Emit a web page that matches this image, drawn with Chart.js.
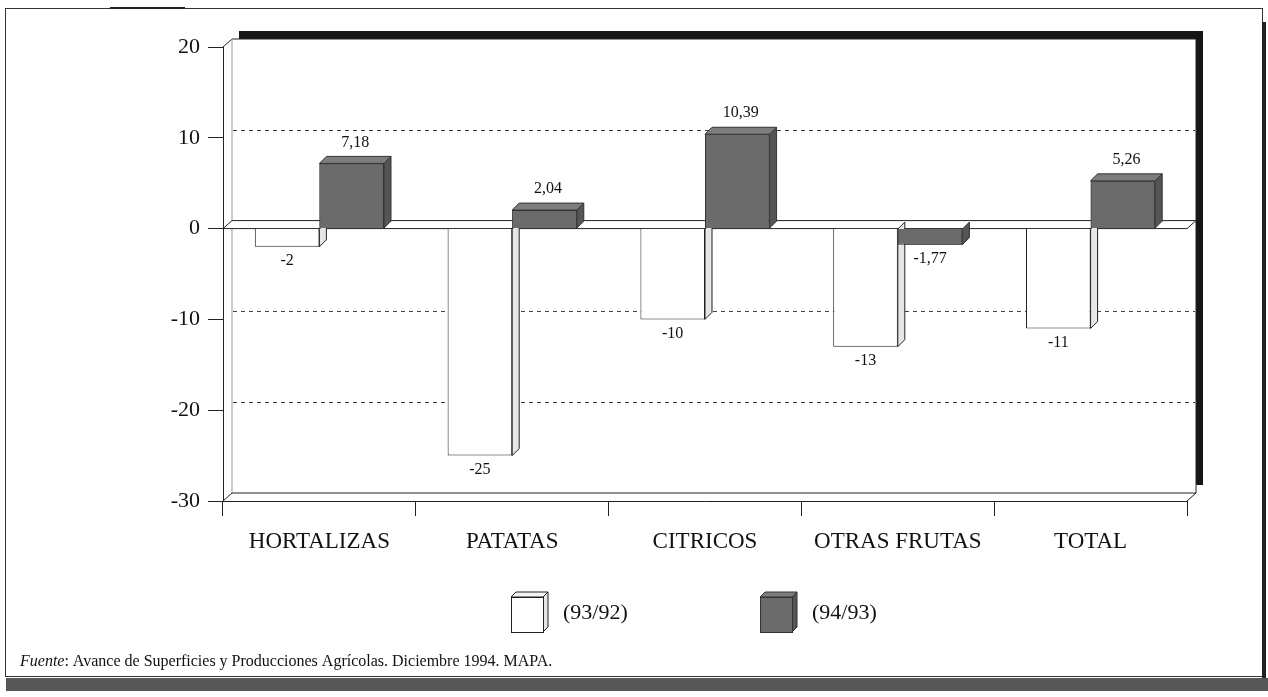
<!DOCTYPE html>
<html>
<head>
<meta charset="utf-8">
<script src="https://cdn.jsdelivr.net/npm/chart.js@4.4.1/dist/chart.umd.min.js"></script>
<style>
  html, body { margin: 0; padding: 0; background: #fff; }
  #wrap { width: 1268px; height: 697px; }
</style>
</head>
<body>
<div id="wrap"><canvas id="chart" width="1268" height="697"></canvas></div>
<script>
var categories = ['HORTALIZAS', 'PATATAS', 'CITRICOS', 'OTRAS FRUTAS', 'TOTAL']
var serie9392 = [-2, -25, -10, -13, -11]
var serie9493 = [7.18, 2.04, 10.39, -1.77, 5.26]
var seriesNames = ['(93/92)', '(94/93)']
var yTicks = [-30, -20, -10, 0, 10, 20]
var gridValues = [10, -10, -20]
var fuente = 'Fuente'
var fuenteText = ': Avance de Superficies y Producciones Agrícolas. Diciembre 1994. MAPA.'

var serif = "'Liberation Serif', 'Times New Roman', serif"
var wallDx = 9, wallDy = -8   // depth of the back wall
var barDx = 7, barDy = -7     // depth of each bar

function fmt(v) { return String(v).replace('.', ',') }

// side + top faces of a bar, looking from above-right
function barFaces(ctx, el, fillTop, fillSide, stroke) {
    var x1 = el.x - el.width / 2, x2 = el.x + el.width / 2
    var yv = el.y, y0 = el.base
    ctx.save()
    ctx.lineWidth = 1
    ctx.strokeStyle = stroke
    // side
    ctx.beginPath()
    if (yv < y0) {
        ctx.moveTo(x2, yv); ctx.lineTo(x2 + barDx, yv + barDy)
        ctx.lineTo(x2 + barDx, y0 + barDy); ctx.lineTo(x2, y0)
    } else {
        ctx.moveTo(x2, y0); ctx.lineTo(x2 + barDx, y0 + barDy)
        ctx.lineTo(x2 + barDx, yv + barDy); ctx.lineTo(x2, yv)
    }
    ctx.closePath()
    ctx.fillStyle = fillSide; ctx.fill(); ctx.stroke()
    // top (only for bars going up)
    if (yv < y0) {
        ctx.beginPath()
        ctx.moveTo(x1, yv); ctx.lineTo(x1 + barDx, yv + barDy)
        ctx.lineTo(x2 + barDx, yv + barDy); ctx.lineTo(x2, yv)
        ctx.closePath()
        ctx.fillStyle = fillTop; ctx.fill(); ctx.stroke()
    }
    ctx.restore()
}

var box3d = {
    id: 'box3d',
    beforeDraw: function (chart) {
        var ctx = chart.ctx
        ctx.save()
        ctx.fillStyle = '#fff'
        ctx.fillRect(0, 0, chart.width, chart.height)
        // outer frame
        ctx.strokeStyle = '#333'
        ctx.lineWidth = 1
        ctx.strokeRect(5.5, 8.5, 1257, 668)
        ctx.fillStyle = '#222'
        ctx.fillRect(110, 7, 75, 2)
        ctx.fillRect(1262, 22, 4, 656)
        ctx.fillStyle = '#575757'
        ctx.fillRect(6, 678, 1262, 13)
        ctx.restore()
    },
    beforeDatasetsDraw: function (chart) {
        var ctx = chart.ctx, a = chart.chartArea, ys = chart.scales.y
        var WL = a.left + wallDx, WR = a.right + wallDx
        var WT = a.top + wallDy, WB = a.bottom + wallDy
        ctx.save()
        // heavy shadow along top and right of the back wall
        ctx.fillStyle = '#161616'
        ctx.fillRect(WL + 7, WT - 8, WR - WL, 8)
        ctx.fillRect(WR, WT - 8, 7, WB - WT)
        ctx.fillStyle = '#fff'
        ctx.fillRect(WL, WT, WR - WL, WB - WT)
        // back wall + left wall edges
        ctx.lineWidth = 1
        ctx.strokeStyle = '#222'
        ctx.beginPath()
        ctx.moveTo(WL, WT); ctx.lineTo(WR, WT); ctx.lineTo(WR, WB)
        ctx.moveTo(a.left, a.top); ctx.lineTo(WL, WT)
        ctx.moveTo(a.left, a.bottom); ctx.lineTo(WL, WB)
        ctx.stroke()
        ctx.strokeStyle = '#999'
        ctx.beginPath()
        ctx.moveTo(WL, WT); ctx.lineTo(WL, WB)
        ctx.stroke()
        // floor at the bottom
        ctx.strokeStyle = '#222'
        ctx.beginPath()
        ctx.moveTo(WL, WB); ctx.lineTo(WR, WB); ctx.lineTo(a.right, a.bottom)
        ctx.stroke()
        // dashed gridlines on the back wall
        ctx.setLineDash([4, 4])
        ctx.strokeStyle = '#444'
        gridValues.forEach(function (v) {
            var y = Math.round(ys.getPixelForValue(v) + wallDy) + 0.5
            ctx.beginPath(); ctx.moveTo(WL + 1, y); ctx.lineTo(WR - 1, y); ctx.stroke()
        })
        ctx.setLineDash([])
        // zero plane
        var y0 = ys.getPixelForValue(0)
        ctx.beginPath()
        ctx.moveTo(a.left, y0); ctx.lineTo(a.right, y0)
        ctx.lineTo(WR, y0 + wallDy); ctx.lineTo(WL, y0 + wallDy)
        ctx.closePath()
        ctx.fillStyle = '#fff'; ctx.fill()
        ctx.strokeStyle = '#222'; ctx.stroke()
        ctx.restore()
    },
    afterDatasetsDraw: function (chart) {
        var ctx = chart.ctx
        var m0 = chart.getDatasetMeta(0), m1 = chart.getDatasetMeta(1)
        for (var i = 0; i < categories.length; i++) {
            barFaces(ctx, m0.data[i], '#f4f4f4', '#e6e6e6', '#222')
            m1.data[i].draw(ctx)
            barFaces(ctx, m1.data[i], '#7d7d7d', '#555', '#333')
        }
        // value labels
        ctx.save()
        ctx.font = '16px ' + serif
        ctx.fillStyle = '#111'
        ctx.textAlign = 'center'
        chart.data.datasets.forEach(function (ds, d) {
            var meta = chart.getDatasetMeta(d)
            ds.data.forEach(function (v, i) {
                var el = meta.data[i]
                if (v >= 0) {
                    ctx.textBaseline = 'bottom'
                    ctx.fillText(fmt(v), el.x + barDx / 2, el.y + barDy - 6)
                } else {
                    ctx.textBaseline = 'top'
                    ctx.fillText(fmt(v), el.x, el.y + 6)
                }
            })
        })
        ctx.restore()
    },
    afterDraw: function (chart) {
        var ctx = chart.ctx, a = chart.chartArea
        var cx = (a.left + a.right) / 2
        var boxes = [cx - 194, cx + 55]
        ctx.save()
        chart.data.datasets.forEach(function (ds, d) {
            var bx = boxes[d], by = 597, bw = 32, bh = 35, dd = 5
            ctx.lineWidth = 1
            ctx.strokeStyle = d == 0 ? '#222' : '#333'
            ctx.beginPath()
            ctx.moveTo(bx, by); ctx.lineTo(bx + dd, by - dd); ctx.lineTo(bx + bw + dd, by - dd)
            ctx.lineTo(bx + bw, by); ctx.closePath()
            ctx.fillStyle = d == 0 ? '#f4f4f4' : '#7d7d7d'; ctx.fill(); ctx.stroke()
            ctx.beginPath()
            ctx.moveTo(bx + bw, by); ctx.lineTo(bx + bw + dd, by - dd); ctx.lineTo(bx + bw + dd, by + bh - dd)
            ctx.lineTo(bx + bw, by + bh); ctx.closePath()
            ctx.fillStyle = d == 0 ? '#e6e6e6' : '#555'; ctx.fill(); ctx.stroke()
            ctx.fillStyle = ds.backgroundColor
            ctx.fillRect(bx, by, bw, bh)
            ctx.strokeRect(bx + 0.5, by + 0.5, bw, bh)
            ctx.fillStyle = '#111'
            ctx.font = '22px ' + serif
            ctx.textAlign = 'left'
            ctx.textBaseline = 'middle'
            ctx.fillText(ds.label, bx + 52, by + bh / 2 - 1)
        })
        // source note
        ctx.textBaseline = 'alphabetic'
        ctx.font = 'italic 16px ' + serif
        ctx.fillText(fuente, 20, 666)
        var w = ctx.measureText(fuente).width
        ctx.font = '16px ' + serif
        ctx.fillText(fuenteText, 20 + w, 666)
        ctx.restore()
    }
}

new Chart(document.getElementById('chart'), {
    type: 'bar',
    data: {
        labels: categories,
        datasets: [{
            label: seriesNames[0],
            data: serie9392,
            backgroundColor: '#ffffff',
            borderColor: '#222',
            borderWidth: 1
        }, {
            label: seriesNames[1],
            data: serie9493,
            backgroundColor: '#6b6b6b',
            borderColor: '#333',
            borderWidth: 1
        }]
    },
    options: {
        responsive: false,
        animation: false,
        layout: { padding: { left: 0, right: 81, top: 47, bottom: 0 } },
        datasets: { bar: { categoryPercentage: 0.67, barPercentage: 1.0 } },
        plugins: { legend: { display: false }, tooltip: { enabled: false } },
        scales: {
            x: {
                afterFit: function (s) { s.height = 196 },
                grid: { offset: true, drawOnChartArea: false, drawTicks: true, tickLength: 15, color: '#222' },
                border: { display: true, color: '#222' },
                ticks: { color: '#111', padding: 12, font: { family: serif, size: 23 } }
            },
            y: {
                min: -30,
                max: 20,
                afterFit: function (s) { s.width = 223 },
                afterBuildTicks: function (s) { s.ticks = yTicks.map(function (v) { return { value: v } }) },
                grid: { drawOnChartArea: false, drawTicks: true, tickLength: 15, color: '#222' },
                border: { display: true, color: '#222' },
                ticks: { color: '#111', padding: 8, font: { family: serif, size: 22 } }
            }
        }
    },
    plugins: [box3d]
});
</script>
</body>
</html>
